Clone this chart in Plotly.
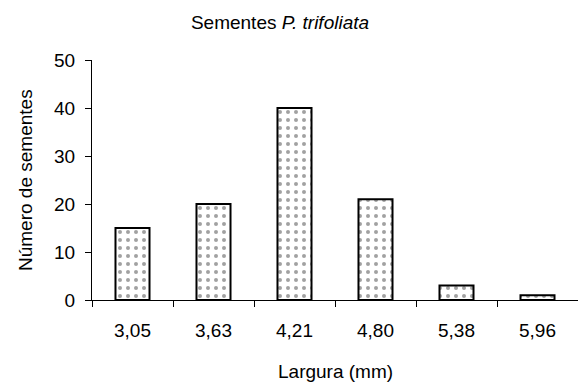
import plotly.graph_objects as go

categories = ["3,05", "3,63", "4,21", "4,80", "5,38", "5,96"]
counts = [15, 20, 40, 21, 3, 1]
y_ticks = [0, 10, 20, 30, 40, 50]

FONT = "Liberation Sans, Arial, sans-serif"
FS = 19
n = len(categories)
centers = list(range(n))
bounds = [i - 0.5 for i in range(n + 1)]

W, H = 578, 381  # page body has an 8px default margin

fig = go.Figure()
fig.add_trace(go.Bar(
    x=centers, y=counts, width=0.42,
    marker=dict(color="white", line=dict(color="black", width=2),
                pattern=dict(shape=".", fgcolor="#444444", bgcolor="white",
                             size=8, solidity=0.2)),
    showlegend=False,
))

fig.update_layout(
    width=W, height=H,
    margin=dict(l=84, r=8, t=52, b=89),
    paper_bgcolor="white", plot_bgcolor="white",
    font=dict(family=FONT, size=FS, color="black"),
    title=dict(text="Sementes <i>P. trifoliata</i>", x=272 / W, xanchor="center",
               xref="container", yref="container", y=1 - 14 / H, yanchor="middle",
               font=dict(size=FS)),
    xaxis=dict(range=[-0.5, n - 0.5], tickmode="array", tickvals=centers,
               ticktext=categories, ticks="", showline=True, linecolor="black",
               linewidth=1, showgrid=False, zeroline=False, ticklabelstandoff=13,
               minor=dict(tickmode="array", tickvals=bounds, ticks="outside",
                          ticklen=6, tickcolor="black", tickwidth=1, showgrid=False)),
    xaxis2=dict(overlaying="x", matches="x", anchor="y", side="bottom",
                tickmode="array", tickvals=bounds, ticks="inside", ticklen=4,
                tickcolor="black", showticklabels=False, showgrid=False,
                zeroline=False, showline=False),
    yaxis=dict(range=[0, 50], tickmode="array", tickvals=y_ticks, ticks="outside",
               ticklen=6, tickcolor="black", showline=True, linecolor="black",
               linewidth=1, showgrid=False, zeroline=False, ticklabelstandoff=6),
    yaxis2=dict(overlaying="y", matches="y", anchor="x", side="left",
                tickmode="array", tickvals=y_ticks, ticks="inside", ticklen=6,
                tickcolor="black", showticklabels=False, showgrid=False,
                zeroline=False, showline=False),
    annotations=[
        dict(text="Largura (mm)", xref="paper", yref="paper", x=0.5, y=0,
             yshift=-71, yanchor="middle", xanchor="center", showarrow=False,
             font=dict(size=FS)),
        dict(text="Número de sementes", xref="paper", yref="paper", x=0, y=0.5,
             xshift=-67, xanchor="center", yanchor="middle", textangle=-90,
             showarrow=False, font=dict(size=FS)),
    ],
)

fig.write_html("out.html")
